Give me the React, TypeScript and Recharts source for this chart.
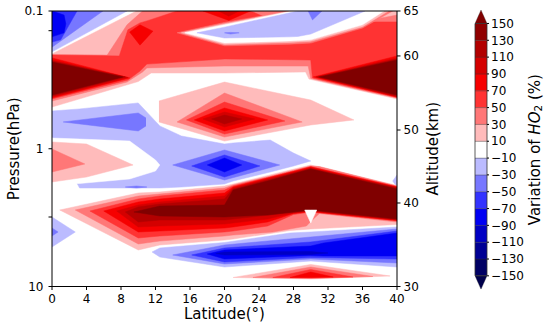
import React from 'react';
import { ComposedChart, Area, XAxis, YAxis, ReferenceLine, ReferenceArea, Label } from 'recharts';

const latitudeTicks = [0, 4, 8, 12, 16, 20, 24, 28, 32, 36, 40];
const pressureTicks = [0.1, 0.139, 1, 3.13, 10];
const pressureTickLabels = ['0.1', '', '1', '', '10'];
const altitudeTickPressures = [0.1, 0.212, 0.731, 2.476, 10];
const altitudeTickLabels = ['65', '60', '50', '40', '30'];

const levelBounds = [-150, -130, -110, -90, -70, -50, -30, -10, 10, 30, 50, 70, 90, 110, 130, 150];
const levelColors = ['#000064', '#000094', '#0000c4', '#0000f3', '#3333ff', '#7777ff', '#bbbbff', '#ffffff',
  '#ffbbbb', '#ff7777', '#ff3333', '#f60000', '#d40000', '#b20000', '#900000'];
const underColor = '#00004c';
const overColor = '#800000';

// contour regions: [latitude, upper hPa, lower hPa]
const upper20 = [[0, 0.205, 0.498], [9.8, 0.1, 0.328], [10, 0.1, 0.325], [11.5, 0.1, 0.282], [20, 0.1, 0.282], [29.4, 0.1, 0.277], [29.8, 0.1, 0.312], [40, 0.1, 0.435]];
const upper40 = [[0, 0.207, 0.45], [6.4, 0.209, 0.356], [8.7, 0.126, 0.328], [10.5, 0.1, 0.277], [11, 0.1, 0.259], [20, 0.1, 0.251], [29.7, 0.1, 0.251], [30, 0.1, 0.309], [37, 0.116, 0.389], [40, 0.107, 0.428]];
const upper60 = [[0, 0.209, 0.435], [7.8, 0.212, 0.329], [8.8, 0.137, 0.317], [10.2, 0.122, 0.273], [11, 0.118, 0.243], [14.5, 0.1, 0.235], [20, 0.1, 0.223], [23, 0.1, 0.224], [26, 0.12, 0.225], [30, 0.12, 0.227], [30.2, 0.12, 0.306], [40, 0.12, 0.425]];
const upper80Left = [[0, 0.219, 0.428], [9, 0.306, 0.306]];
const upper100Left = [[0, 0.227, 0.421], [8.8, 0.304, 0.304]];
const upper120Left = [[0, 0.231, 0.414], [8.5, 0.301, 0.301]];
const upperDarkLeft = [[0, 0.235, 0.407], [8.2, 0.301, 0.301]];
const upper80Right = [[30.3, 0.301, 0.301], [40, 0.212, 0.421]];
const upper100Right = [[30.6, 0.301, 0.301], [40, 0.219, 0.418]];
const upper120Right = [[30.8, 0.301, 0.301], [40, 0.223, 0.414]];
const upperDarkRight = [[31, 0.301, 0.301], [40, 0.227, 0.407]];
const upper80Knot = [[9, 0.142, 0.142], [10.2, 0.126, 0.177], [11.7, 0.14, 0.14]];
const upper80Top = [[17.5, 0.1, 0.1], [20.5, 0.1, 0.117], [23, 0.1, 0.1]];
const upper100Top = [[19.3, 0.1, 0.1], [20.5, 0.1, 0.109], [21.7, 0.1, 0.1]];

const topBlue20 = [[0, 0.1, 0.198], [8.7, 0.1, 0.1]];
const topBlue40 = [[0, 0.1, 0.183], [5.9, 0.1, 0.1]];
const topBlue60 = [[0, 0.1, 0.168], [1, 0.1, 0.162], [2.9, 0.1, 0.1]];
const topBlue80 = [[0, 0.1, 0.154], [1.4, 0.107, 0.144], [1.6, 0.124, 0.124]];

const wedgePink = [[14.5, 0.144, 0.144], [20, 0.121, 0.179], [27.6, 0.1, 0.174], [30, 0.1, 0.171], [36, 0.1, 0.133], [39.5, 0.1, 0.1]];
const wedgeRose = [[15, 0.144, 0.144], [20, 0.124, 0.175], [27.6, 0.1, 0.169], [30, 0.1, 0.166], [36, 0.1, 0.13], [39, 0.1, 0.1]];
const wedgeWhite = [[15.4, 0.144, 0.144], [20, 0.126, 0.171], [27.6, 0.101, 0.165], [28.5, 0.1, 0.164], [30, 0.1, 0.162], [36, 0.1, 0.126], [38.5, 0.1, 0.1]];
const wedgeBlue = [[16.8, 0.144, 0.144], [20, 0.131, 0.157], [27.6, 0.103, 0.154], [28.5, 0.1, 0.153], [30, 0.1, 0.147], [36.3, 0.1, 0.1]];
const wedgeBlueTop = [[29.7, 0.1, 0.1], [30.2, 0.1, 0.116], [31.3, 0.1, 0.1]];
const wedgeBlueLine = [[20, 0.144, 0.144], [20.7, 0.143, 0.147], [21.7, 0.144, 0.144]];

const centre20 = [[12.4, 0.45, 0.639], [20, 0.328, 0.879], [30, 0.443, 0.672], [35, 0.618, 0.618]];
const centre40 = [[14.5, 0.639, 0.639], [20, 0.394, 0.822], [29, 0.639, 0.639]];
const centre60 = [[15.6, 0.618, 0.618], [20, 0.458, 0.782], [27, 0.629, 0.629]];
const centre80 = [[16.5, 0.618, 0.618], [20, 0.506, 0.743], [25, 0.618, 0.618]];
const centre100 = [[17.5, 0.608, 0.608], [20, 0.541, 0.695], [23.5, 0.608, 0.608]];
const centre120 = [[18.5, 0.608, 0.608], [20, 0.569, 0.661], [22, 0.608, 0.608]];

const midBlue20 = [[0, 0.532, 0.822], [3.2, 0.514, 1.928], [10, 0.465, 1.928], [12.5, 0.683, 1.928], [15, 0.808, 1.896], [20, 0.924, 1.803], [21, 0.908, 1.715], [25.3, 0.864, 1.475], [28, 1.074, 1.334], [30, 1.227, 1.227]];
const midGap = [[0, 0.836, 1.803], [3.2, 0.85, 1.788], [9, 0.879, 1.658], [12, 1.207, 1.451], [12.5, 1.312, 1.312]];
const leftPink20 = [[0, 0.893, 1.743], [4, 0.924, 1.604], [9.4, 1.312, 1.312]];
const leftPink40 = [[0, 1.004, 1.475], [3.8, 1.29, 1.29]];
const midBlue40 = [[1.3, 0.639, 0.639], [10, 0.55, 0.743], [10.9, 0.598, 0.683]];
const midBlueDot = [[8.5, 1.896, 1.896], [9.8, 1.864, 1.928], [11, 1.896, 1.896]];
const diamond40 = [[14, 1.312, 1.312], [20, 1.021, 1.686], [26.4, 1.312, 1.312]];
const diamond60 = [[16.2, 1.334, 1.334], [20, 1.11, 1.604], [24.1, 1.334, 1.334]];
const diamond80 = [[18, 1.312, 1.312], [20, 1.167, 1.475], [22, 1.312, 1.312]];
const edgeBlue = [[39.5, 1.715, 1.715], [40, 1.551, 1.896]];
const cornerBlue20 = [[0, 3.13, 5.167], [2.7, 4.021, 4.021]];
const cornerBlue40 = [[0, 3.761, 4.299], [0.7, 4.021, 4.021]];

const lowRed20 = [[0.9, 2.784, 2.784], [10, 2.096, 5.432], [12.5, 2.061, 4.997], [20, 1.864, 4.597], [21, 1.803, 4.521], [27.6, 1.427, 3.922], [30, 1.312, 3.825], [40, 1.848, 3.547]];
const lowRed40 = [[2.7, 2.784, 2.784], [10, 2.203, 4.914], [12.5, 2.131, 4.674], [20, 1.928, 4.299], [21, 1.833, 4.228], [25.6, 1.564, 4.021], [29.5, 1.357, 3.638], [30, 1.334, 3.374], [31, 1.346, 2.952], [40, 1.864, 3.402]];
const lowRed60 = [[4.4, 2.831, 2.831], [10, 2.316, 4.445], [12.5, 2.203, 4.299], [20, 1.993, 4.021], [21, 1.864, 3.955], [25, 1.617, 3.638], [28, 1.451, 3.001], [30, 1.346, 2.879], [40, 1.88, 3.346]];
const lowRed80 = [[6, 2.831, 2.831], [10, 2.435, 4.021], [12.5, 2.316, 3.955], [20, 2.096, 3.761], [21, 1.896, 3.699], [25, 1.631, 3.402], [28, 1.463, 2.952], [30, 1.357, 2.855], [40, 1.896, 3.318]];
const lowRed100 = [[7.5, 2.831, 2.831], [10, 2.561, 3.699], [12.5, 2.435, 3.638], [20, 2.203, 3.518], [21, 1.928, 3.46], [25, 1.658, 3.236], [28, 1.485, 2.928], [30, 1.38, 2.831], [40, 1.912, 3.291]];
const lowRed120 = [[8.5, 2.879, 2.879], [10, 2.648, 3.402], [12.5, 2.518, 3.291], [20, 2.316, 3.291], [21, 1.96, 3.236], [30, 1.391, 2.808], [40, 1.928, 3.264]];
const lowRedDark = [[9.5, 2.879, 2.879], [12.5, 2.604, 3.078], [20, 2.561, 3.13], [21, 1.993, 3.104], [25, 1.715, 3.027], [30, 1.403, 2.784], [40, 1.96, 3.236]];
const lowRedGap = [[29.3, 2.784, 2.784], [30, 2.784, 3.46], [30.7, 2.784, 2.784]];

const lowBlue20 = [[11.6, 5.617, 5.617], [12.5, 5.254, 6.106], [20, 4.793, 7.218], [27.6, 4.089, 6.693], [30, 4.021, 6.528], [40, 3.699, 7.218]];
const lowBlue40 = [[14, 5.905, 5.905], [20, 4.997, 6.863], [30, 4.372, 6.313], [40, 3.825, 6.749]];
const lowBlue60 = [[16.2, 5.905, 5.905], [20, 5.254, 6.637], [30, 4.753, 6.159], [40, 3.955, 6.313]];
const lowBlue80 = [[18, 5.807, 5.807], [20, 5.432, 6.313], [30, 5.081, 5.957], [31.5, 4.833, 6.004], [40, 4.089, 6.004]];
const lowBlue100 = [[19, 5.759, 5.759], [20, 5.617, 5.905], [30, 5.57, 5.856], [32, 5.711, 5.711]];

const bottomRed20 = [[21, 8.601, 8.601], [30, 6.92, 8.82], [39.2, 8.389, 8.389]];
const bottomRed40 = [[23.3, 8.601, 8.601], [30, 7.218, 8.746], [37.2, 8.459, 8.459]];
const bottomRed60 = [[25.6, 8.601, 8.601], [30, 7.526, 8.674], [34.9, 8.53, 8.53]];
const bottomRed80 = [[27.6, 8.601, 8.601], [30, 7.847, 8.601], [32.6, 8.53, 8.53]];

// [variation %, region], painted in this order
const layers: [number, number[][]][] = [
  [20, upper20], [40, upper40], [60, upper60],
  [80, upper80Left], [100, upper100Left], [120, upper120Left], [160, upperDarkLeft],
  [80, upper80Right], [100, upper100Right], [120, upper120Right], [160, upperDarkRight],
  [80, upper80Knot], [80, upper80Top], [100, upper100Top],
  [-20, topBlue20], [-40, topBlue40], [-60, topBlue60], [-80, topBlue80],
  [40, wedgePink], [20, wedgeRose], [0, wedgeWhite], [-20, wedgeBlue], [-40, wedgeBlueTop], [-40, wedgeBlueLine],
  [20, centre20], [40, centre40], [60, centre60], [80, centre80], [100, centre100], [120, centre120],
  [-20, midBlue20], [0, midGap], [20, leftPink20], [40, leftPink40], [-40, midBlue40], [-40, midBlueDot],
  [-40, diamond40], [-60, diamond60], [-80, diamond80], [-20, edgeBlue],
  [-20, cornerBlue20], [-40, cornerBlue40],
  [20, lowRed20], [40, lowRed40], [60, lowRed60], [80, lowRed80], [100, lowRed100], [120, lowRed120], [160, lowRedDark], [0, lowRedGap],
  [-20, lowBlue20], [-40, lowBlue40], [-60, lowBlue60], [-80, lowBlue80], [-100, lowBlue100],
  [20, bottomRed20], [40, bottomRed40], [60, bottomRed60], [80, bottomRed80],
];

const colorOf = (v: number) => {
  if (v > 150) return overColor;
  if (v < -150) return underColor;
  const i = levelBounds.findIndex((b, k) => v >= b && v < levelBounds[k + 1]);
  return levelColors[i];
};

// colour bar pieces: one block per level band, plus the two extension tips
const barTip = 166;
const barPieces = [
  ...levelColors.map((c, i) => ({
    color: c,
    data: [{ x: 0, v: [levelBounds[i], levelBounds[i + 1]] }, { x: 1, v: [levelBounds[i], levelBounds[i + 1]] }],
  })),
  { color: overColor, data: [{ x: 0, v: [150, 150] }, { x: 0.5, v: [150, barTip] }, { x: 1, v: [150, 150] }] },
  { color: underColor, data: [{ x: 0, v: [-150, -150] }, { x: 0.5, v: [-barTip, -150] }, { x: 1, v: [-150, -150] }] },
];

const axisTick = { fill: '#000', fontSize: 12 };
const titleStyle = { fontSize: 15, fill: '#000', textAnchor: 'middle' as const };

const BarTitle = (props: any) => {
  const { x, y, width, height } = props.viewBox;
  const cx = x + width - 15;
  const cy = y + height / 2;
  return (
    <text x={cx} y={cy} transform={`rotate(-90, ${cx}, ${cy})`} textAnchor="middle" dominantBaseline="central" fontSize={15} fill="#000">
      Variation of <tspan fontStyle="italic">HO</tspan><tspan fontSize={10.5} dy={3}>2</tspan><tspan dy={-3}> (%)</tspan>
    </text>
  );
};

export default function App() {
  return (
    <div style={{ position: 'absolute', left: 0, top: 0, width: 550, height: 332, background: '#fff', fontFamily: 'DejaVu Sans' }}>
      <ComposedChart width={450} height={332} margin={{ top: 11, right: 0, bottom: 0, left: 0 }}>
        {layers.map(([v, pts], i) => (
          <Area
            key={i}
            data={pts.map(([lat, top, bottom]) => ({ lat, hpa: [top, bottom] }))}
            dataKey="hpa"
            yAxisId="p"
            type="linear"
            fill={colorOf(v)}
            fillOpacity={1}
            stroke={colorOf(v)}
            strokeWidth={0.5}
            dot={false}
            activeDot={false}
            isAnimationActive={false}
          />
        ))}
        <XAxis type="number" dataKey="lat" domain={[0, 40]} ticks={latitudeTicks} interval={0} allowDataOverflow
          height={45.5} tickSize={3.5} tickMargin={4.5} stroke="#000" tick={axisTick}>
          <Label value="Latitude(°)" position="insideBottom" offset={13} style={titleStyle} />
        </XAxis>
        <YAxis yAxisId="p" type="number" scale="log" domain={[0.1, 10]} reversed allowDataOverflow
          ticks={pressureTicks} interval={0} tickFormatter={(v) => pressureTickLabels[pressureTicks.indexOf(v)]}
          width={52} tickSize={3.5} tickMargin={5} stroke="#000" tick={axisTick}>
          <Label value="Pressure(hPa)" angle={-90} position="insideLeft" offset={14} style={titleStyle} />
        </YAxis>
        <YAxis yAxisId="alt" orientation="right" type="number" scale="log" domain={[0.1, 10]} reversed allowDataOverflow
          ticks={altitudeTickPressures} interval={0} tickFormatter={(v) => altitudeTickLabels[altitudeTickPressures.indexOf(v)]}
          width={53} tickSize={3.5} tickMargin={3} stroke="#000" tick={axisTick}>
          <Label value="Altitude(km)" angle={-90} position="insideRight" offset={17} style={titleStyle} />
        </YAxis>
        <ReferenceLine yAxisId="p" y={0.1} stroke="#000" ifOverflow="visible" />
      </ComposedChart>

      <div style={{ position: 'absolute', left: 450, top: 0 }}>
        <ComposedChart width={100} height={332} margin={{ top: 10, right: 0, bottom: 42.7, left: 25 }}>
          {barPieces.map((p, i) => (
            <Area
              key={i}
              data={p.data}
              dataKey="v"
              type="linear"
              fill={p.color}
              fillOpacity={1}
              stroke="#333"
              strokeOpacity={0.45}
              strokeWidth={0.7}
              dot={false}
              activeDot={false}
              isAnimationActive={false}
            />
          ))}
          <XAxis type="number" dataKey="x" domain={[0, 1]} allowDataOverflow hide />
          <YAxis type="number" orientation="right" domain={[-barTip, barTip]} allowDataOverflow ticks={levelBounds} interval={0}
            tickFormatter={(v) => (v < 0 ? '\u2212' + Math.abs(v) : String(v))}
            width={63} tickSize={2} tickMargin={2} axisLine={false} stroke="#000" tick={axisTick}>
            <Label content={BarTitle} />
          </YAxis>
          <ReferenceArea x1={0} x2={1} y1={-150} y2={150} fill="none" stroke="#333" strokeWidth={0.8} ifOverflow="visible" />
        </ComposedChart>
      </div>
    </div>
  );
}
